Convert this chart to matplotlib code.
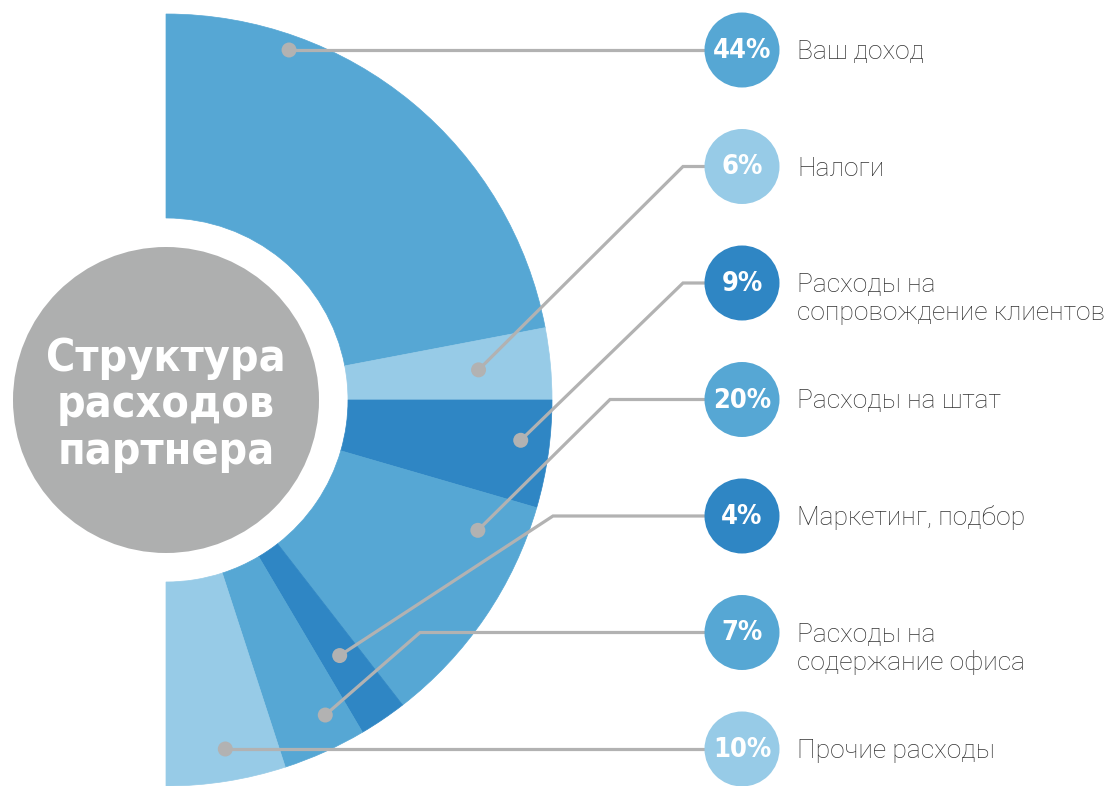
import numpy as np
import matplotlib
matplotlib.use("Agg")
import matplotlib.pyplot as plt
from matplotlib.patches import Wedge, Circle
from matplotlib import font_manager as fm

# ---- data ----
categories = ["Ваш доход", "Налоги", "Расходы на\nсопровождение клиентов",
              "Расходы на штат", "Маркетинг, подбор",
              "Расходы на\nсодержание офиса", "Прочие расходы"]
shares = [44, 6, 9, 20, 4, 7, 10]
pct_labels = [f"{v}%" for v in shares]
title_text = "Структура\nрасходов\nпартнера"

# ---- style / layout ----
MED, LIGHT, DARK = "#56A7D4", "#97CBE7", "#2F86C4"
colors = [MED, LIGHT, DARK, MED, DARK, MED, LIGHT]
GRAY_CIRCLE = "#AEAFAF"
LINE_GRAY = "#B2B2B2"
TEXT_COLOR = "#333333"

# pick a condensed bold font if one is installed
entries = fm.fontManager.ttflist
cond = [e for e in entries if e.stretch in ("condensed", "semi-condensed", "extra-condensed")
        or "Narrow" in e.name or "Condensed" in e.name]
names = [e.name for e in cond]
if any(n == "Liberation Sans Narrow" for n in names):
    COND = dict(family=["Liberation Sans Narrow", "DejaVu Sans"], fontweight="bold")
    title_fs, pct_fs = 37, 22
elif any(e.name == "DejaVu Sans" and e.stretch != "normal" for e in entries):
    COND = dict(family=["DejaVu Sans"], fontweight="bold", fontstretch="condensed")
    title_fs, pct_fs = 32, 19.5
elif cond:
    COND = dict(family=[cond[0].name, "DejaVu Sans"], fontweight="bold")
    title_fs, pct_fs = 35, 21.5
else:
    COND = dict(family=["Roboto", "DejaVu Sans"], fontweight="bold")
    title_fs, pct_fs = 32, 20

W, H = 1111, 786
cx, cy = 166, H - 400
r_out, r_in, r_center = 386, 182, 153
label_cx = 742
label_r = 37.5
label_ys = np.linspace(H - 50, H - 749, len(shares))
text_x = 797
# anchor spec: (fraction within wedge, radius, elbow x) ; None frac -> horizontal leader
anchors = [(None, 371, None), (0.49, 314, 683), (0.40, 357, 683), (0.18, 338, 610),
           (0.5, 309, 553), (0.3, 353, 420), (None, 354, None)]

fig = plt.figure(figsize=(W / 100, H / 100), dpi=100)
ax = fig.add_axes([0, 0, 1, 1])
ax.set_xlim(0, W)
ax.set_ylim(0, H)
ax.axis("off")

# wedges: half donut from 90 deg (top) clockwise to -90 deg (bottom)
total = float(sum(shares))
cum = np.concatenate([[0], np.cumsum(shares)]) / total
starts = 90 - 180 * cum[1:]
ends = 90 - 180 * cum[:-1]
for t1, t2, c in zip(starts, ends, colors):
    ax.add_patch(Wedge((cx, cy), r_out, t1, t2, width=r_out - r_in,
                       facecolor=c, edgecolor=c, linewidth=0.5, zorder=1))

# center gray circle
ax.add_patch(Circle((cx, cy), r_center, facecolor=GRAY_CIRCLE, edgecolor="none", zorder=2))
ax.text(cx, cy - 5, title_text, ha="center", va="center", color="white",
        fontsize=title_fs, linespacing=1.09, zorder=3, **COND)

# leaders, dots, label circles and texts
for i, (frac, rad, ex) in enumerate(anchors):
    ly = label_ys[i]
    if frac is None:
        dy = ly - cy
        dx = np.sqrt(rad ** 2 - dy ** 2)
        px, py = cx + dx, ly
        xs, ys = [px, label_cx], [py, ly]
    else:
        ang = np.deg2rad(ends[i] - frac * (ends[i] - starts[i]))
        px, py = cx + rad * np.cos(ang), cy + rad * np.sin(ang)
        xs, ys = [px, ex, label_cx], [py, ly, ly]
    ax.plot(xs, ys, color=LINE_GRAY, lw=2.3, solid_capstyle="butt",
            solid_joinstyle="miter", zorder=4)
    ax.add_patch(Circle((px, py), 7.5, facecolor=LINE_GRAY, edgecolor="none", zorder=5))
    ax.add_patch(Circle((label_cx, ly), label_r, facecolor=colors[i], edgecolor="none", zorder=6))
    ax.text(label_cx, ly - 1, pct_labels[i], ha="center", va="center", color="white",
            fontsize=pct_fs, zorder=7, **COND)
    for j, line in enumerate(categories[i].split("\n")):
        ax.text(text_x, ly - 2 - 28 * j, line, ha="left", va="center",
                color=TEXT_COLOR, fontsize=19, fontweight="light",
                family=["Roboto", "DejaVu Sans"], zorder=7)

fig.savefig("out.png", dpi=100)
